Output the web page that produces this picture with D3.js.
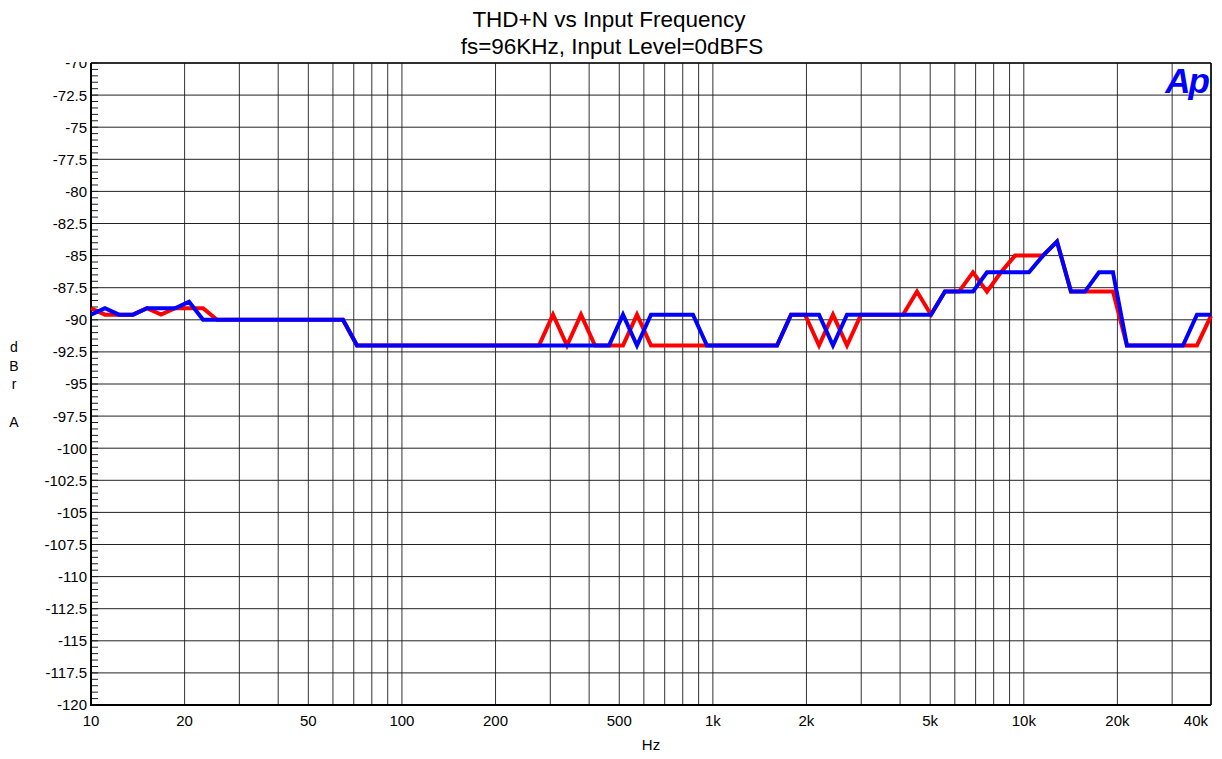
<!DOCTYPE html>
<html>
<head>
<meta charset="utf-8">
<script src="https://cdn.jsdelivr.net/npm/d3@7"></script>
<style>
  body { margin: 0; background: #fff; }
  svg text { font-family: "Liberation Sans", Arial, sans-serif; fill: #000; }
</style>
</head>
<body>
<div id="chart"></div>
<script>
// --- data (81-point log sweep, 10 Hz .. 40 kHz) ---
const freqs = [
  10, 11.09, 12.30, 13.65, 15.14, 16.80, 18.63, 20.67, 22.93, 25.43,
  28.21, 31.29, 34.70, 38.49, 42.70, 47.36, 52.53, 58.27, 64.63, 71.69,
  79.52, 88.20, 97.86, 108.5, 120.4, 133.5, 148.1, 164.3, 182.3, 202.2,
  224.3, 248.8, 275.9, 306.1, 339.5, 376.6, 417.7, 463.4, 514.0, 570.1,
  632.4, 701.5, 778.1, 863.0, 957.3, 1062, 1178, 1307, 1450, 1608,
  1784, 1979, 2195, 2434, 2700, 2995, 3322, 3685, 4088, 4534,
  5029, 5578, 6188, 6864, 7613, 8445, 9368, 10391, 11526, 12785,
  14181, 15730, 17448, 19354, 21468, 23813, 26414, 29299, 32499, 36049, 40000
];

const redDb = [
  -89.1, -89.6, -89.6, -89.6, -89.1, -89.6, -89.1, -89.1, -89.1, -90.0,
  -90.0, -90.0, -90.0, -90.0, -90.0, -90.0, -90.0, -90.0, -90.0, -92.0,
  -92.0, -92.0, -92.0, -92.0, -92.0, -92.0, -92.0, -92.0, -92.0, -92.0,
  -92.0, -92.0, -92.0, -89.6, -92.0, -89.6, -92.0, -92.0, -92.0, -89.6,
  -92.0, -92.0, -92.0, -92.0, -92.0, -92.0, -92.0, -92.0, -92.0, -92.0,
  -89.6, -89.6, -92.0, -89.6, -92.0, -89.6, -89.6, -89.6, -89.6, -87.8,
  -89.6, -87.8, -87.8, -86.3, -87.8, -86.3, -85.0, -85.0, -85.0, -83.9,
  -87.8, -87.8, -87.8, -87.8, -92.0, -92.0, -92.0, -92.0, -92.0, -92.0,
  -89.7
];

const blueDb = [
  -89.6, -89.1, -89.6, -89.6, -89.1, -89.1, -89.1, -88.6, -90.0, -90.0,
  -90.0, -90.0, -90.0, -90.0, -90.0, -90.0, -90.0, -90.0, -90.0, -92.0,
  -92.0, -92.0, -92.0, -92.0, -92.0, -92.0, -92.0, -92.0, -92.0, -92.0,
  -92.0, -92.0, -92.0, -92.0, -92.0, -92.0, -92.0, -92.0, -89.6, -92.0,
  -89.6, -89.6, -89.6, -89.6, -92.0, -92.0, -92.0, -92.0, -92.0, -92.0,
  -89.6, -89.6, -89.6, -92.0, -89.6, -89.6, -89.6, -89.6, -89.6, -89.6,
  -89.6, -87.8, -87.8, -87.8, -86.3, -86.3, -86.3, -86.3, -85.0, -83.9,
  -87.8, -87.8, -86.3, -86.3, -92.0, -92.0, -92.0, -92.0, -92.0, -89.6,
  -89.6
];

// axis ticks
const yMajorTicks = [-70, -72.5, -75, -77.5, -80, -82.5, -85, -87.5, -90, -92.5, -95, -97.5,
  -100, -102.5, -105, -107.5, -110, -112.5, -115, -117.5, -120];
const xGridFreqs = [10, 20, 30, 40, 50, 60, 70, 80, 90,
  100, 200, 300, 400, 500, 600, 700, 800, 900,
  1000, 2000, 3000, 4000, 5000, 6000, 7000, 8000, 9000,
  10000, 20000, 30000, 40000];
const xLabelFreqs = [10, 20, 50, 100, 200, 500, 1000, 2000, 5000, 10000, 20000, 40000];
const xLabelTexts = ["10", "20", "50", "100", "200", "500", "1k", "2k", "5k", "10k", "20k", "40k"];

// --- layout ---
const W = 1222, H = 759;
const plotL = 91, plotR = 1211, plotT = 63, plotB = 705;

const svg = d3.select("#chart").append("svg")
  .attr("width", W).attr("height", H);

const x = d3.scaleLog().domain([10, 40000]).range([plotL, plotR]);
const y = d3.scaleLinear().domain([-120, -70]).range([plotB, plotT]);

// grille verticale
svg.append("g").selectAll("line").data(xGridFreqs).enter().append("line")
  .attr("x1", d => x(d)).attr("x2", d => x(d))
  .attr("y1", plotT).attr("y2", plotB)
  .style("stroke", "#333").style("stroke-width", 1);

// grille horizontale
svg.append("g").selectAll("line").data(yMajorTicks).enter().append("line")
  .attr("x1", plotL).attr("x2", plotR)
  .attr("y1", d => y(d)).attr("y2", d => y(d))
  .style("stroke", "#222").style("stroke-width", 1);

// minor ticks on the left axis (every 0.5 dB, pointing inward)
const yMinor = d3.range(-120, -69.9, 0.5);
svg.append("g").selectAll("line").data(yMinor).enter().append("line")
  .attr("x1", plotL).attr("x2", plotL + 7)
  .attr("y1", d => y(d)).attr("y2", d => y(d))
  .style("stroke", "#222").style("stroke-width", 1);

// y tick labels
svg.append("g").selectAll("text").data(yMajorTicks).enter().append("text")
  .attr("x", plotL - 4).attr("y", d => y(d)).attr("dy", "0.36em")
  .attr("text-anchor", "end")
  .style("font-size", "15px")
  .text(d => d);

// x tick labels
svg.append("g").selectAll("text").data(xLabelFreqs).enter().append("text")
  .attr("x", (d, i) => i === xLabelFreqs.length - 1 ? x(d) - 3 : x(d))
  .attr("y", 726)
  .attr("text-anchor", (d, i) => i === xLabelFreqs.length - 1 ? "end" : "middle")
  .style("font-size", "15px")
  .text((d, i) => xLabelTexts[i]);

// cadre
svg.append("line").attr("x1", plotL).attr("x2", plotL).attr("y1", plotT).attr("y2", plotB + 1)
  .style("stroke", "#000").style("stroke-width", 2);
svg.append("line").attr("x1", plotL - 1).attr("x2", plotR).attr("y1", plotB).attr("y2", plotB)
  .style("stroke", "#000").style("stroke-width", 2);
svg.append("line").attr("x1", plotR).attr("x2", plotR).attr("y1", plotT).attr("y2", plotB)
  .style("stroke", "#000").style("stroke-width", 1.5);

// courbes
const line = d3.line()
  .x((d, i) => x(freqs[i]))
  .y(d => y(d));

svg.append("path").datum(redDb)
  .attr("d", line)
  .style("fill", "none").style("stroke", "#ff0000")
  .style("stroke-width", 4).style("stroke-linejoin", "miter");

svg.append("path").datum(blueDb)
  .attr("d", line)
  .style("fill", "none").style("stroke", "#0000ff")
  .style("stroke-width", 4).style("stroke-linejoin", "miter");

// title block masks the top of the "-70" label like the original
svg.append("rect").attr("x", 0).attr("y", 0).attr("width", W).attr("height", plotT - 1)
  .style("fill", "#fff");
svg.append("line").attr("x1", plotL).attr("x2", plotR).attr("y1", plotT).attr("y2", plotT)
  .style("stroke", "#111").style("stroke-width", 1.5);

svg.append("text").attr("x", 609).attr("y", 26.5).attr("text-anchor", "middle")
  .style("font-size", "22.5px").text("THD+N vs Input Frequency");
svg.append("text").attr("x", 612).attr("y", 53.5).attr("text-anchor", "middle")
  .style("font-size", "22.5px").text("fs=96KHz, Input Level=0dBFS");

// y label, stacked letters
const yLabel = ["d", "B", "r", "", "A"];
svg.append("g").selectAll("text").data(yLabel).enter().append("text")
  .attr("x", 14).attr("y", (d, i) => 352 + i * 18.7)
  .attr("text-anchor", "middle")
  .style("font-size", "14px")
  .text(d => d);

svg.append("text").attr("x", 651).attr("y", 750).attr("text-anchor", "middle")
  .style("font-size", "15px").text("Hz");

// logo Ap
svg.append("text").attr("x", 1208).attr("y", 93).attr("text-anchor", "end")
  .style("font-size", "35px").style("font-weight", "bold").style("font-style", "italic")
  .style("letter-spacing", "-2px")
  .style("fill", "#0000ff")
  .text("Ap");
</script>
</body>
</html>
